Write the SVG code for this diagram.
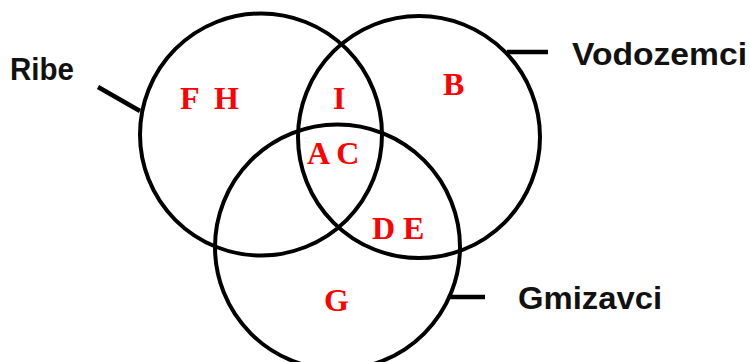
<svg xmlns="http://www.w3.org/2000/svg" width="750" height="362" viewBox="0 0 750 362">
<style>
.c{fill:none;stroke:#000;stroke-width:4}
.l{stroke:#000;stroke-width:4.5;fill:none}
.t{font-family:"Liberation Sans",Arial,sans-serif;font-weight:bold;font-size:31px;fill:#111}
.r{font-family:"Liberation Serif","Times New Roman",serif;font-weight:bold;font-size:32px;fill:#f00}
</style>
<rect width="750" height="362" fill="#fff"/>
<g id="ribe">
<circle class="c" cx="261" cy="134.5" r="121"/>
<text class="t" x="10" y="80" textLength="64" lengthAdjust="spacingAndGlyphs">Ribe</text>
</g>
<g id="vodozemci">
<circle class="c" cx="419" cy="137" r="121"/>
<text class="t" x="572" y="65" textLength="175" lengthAdjust="spacingAndGlyphs">Vodozemci</text>
</g>
<g id="gmizavci">
<circle class="c" cx="337.5" cy="247" r="122.5"/>
<text class="t" x="518" y="309" textLength="144" lengthAdjust="spacingAndGlyphs">Gmizavci</text>
</g>
<g id="connectors">
<line class="l" x1="98" y1="87" x2="140" y2="111"/>
<line class="l" x1="507" y1="52" x2="548" y2="52"/>
<line class="l" x1="450" y1="297" x2="485" y2="297"/>
</g>
<g id="labels">
<text class="r" x="180" y="109">F</text>
<text class="r" x="214" y="109">H</text>
<text class="r" x="333" y="109">I</text>
<text class="r" x="307" y="164">A C</text>
<text class="r" x="443" y="95">B</text>
<text class="r" x="372" y="239">D E</text>
<text class="r" x="324" y="311">G</text>
</g>
</svg>
